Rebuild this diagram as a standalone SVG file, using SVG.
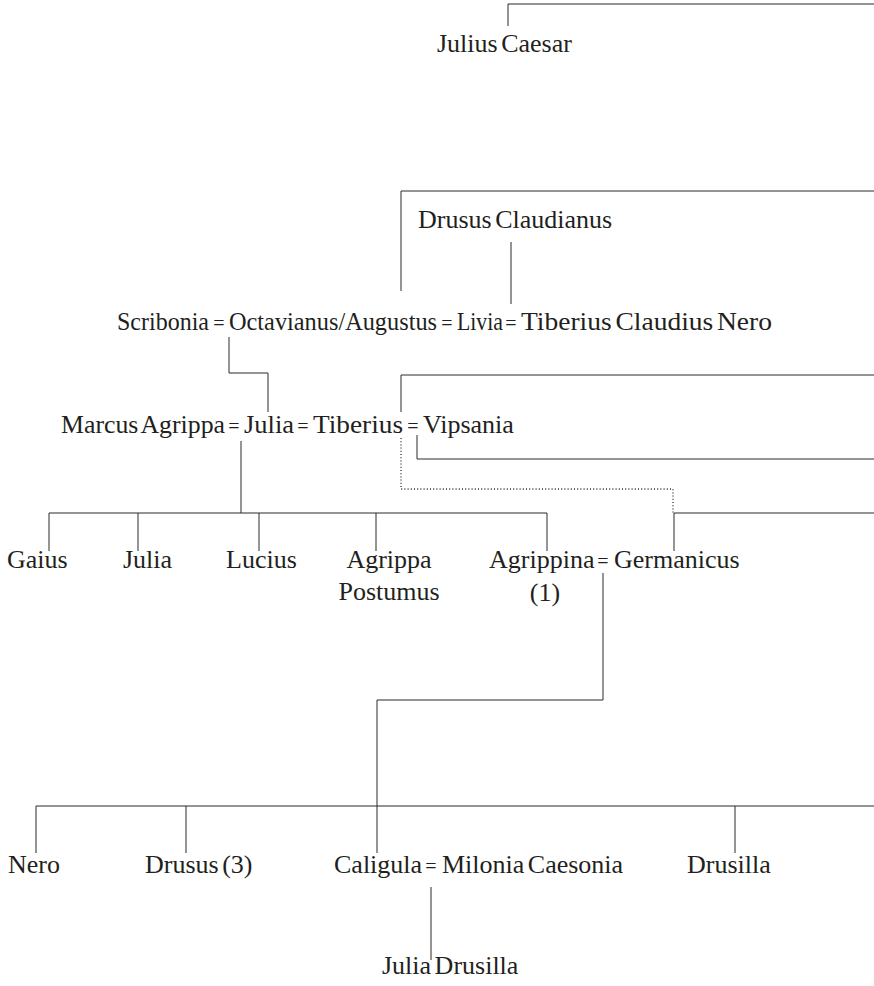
<svg xmlns="http://www.w3.org/2000/svg" width="874" height="986" viewBox="0 0 874 986">
<style>
text{font-family:"Liberation Serif","DejaVu Serif",serif;font-size:26px;fill:#231f20;word-spacing:-3px}
.eq{font-size:20px}
.ln{fill:none;stroke:#2a2a2a;stroke-width:1}
.dot{fill:none;stroke:#2a2a2a;stroke-width:1.3;stroke-dasharray:1 2.2}
</style>
<rect width="874" height="986" fill="#fff"/>
<g id="connectors">
<path class="ln" d="M508,26V4H874"/>
<path class="ln" d="M401,291V191H874"/>
<path class="ln" d="M511,242V304"/>
<path class="ln" d="M229,337V373H268V412"/>
<path class="ln" d="M401,412V375H874"/>
<path class="ln" d="M417,435V459H874"/>
<path class="dot" d="M401,438V489H673V513"/>
<path class="ln" d="M674,551V513H874"/>
<path class="ln" d="M241,441V513M49,513H547M49,513V551M138,513V551M259,513V551M376,513V551M547,513V551"/>
<path class="ln" d="M603,573V700H377V853"/>
<path class="ln" d="M36,806H874M36,806V853M186,806V853M735,806V853"/>
<path class="ln" d="M431,887V960"/>
</g>
<g id="marriages">
<text class="eq" x="219" y="330" text-anchor="middle">=</text>
<text class="eq" x="447" y="330" text-anchor="middle">=</text>
<text class="eq" x="511" y="330" text-anchor="middle">=</text>
<text class="eq" x="234" y="433" text-anchor="middle">=</text>
<text class="eq" x="303" y="433" text-anchor="middle">=</text>
<text class="eq" x="413" y="433" text-anchor="middle">=</text>
<text class="eq" x="603" y="568" text-anchor="middle">=</text>
<text class="eq" x="431" y="873" text-anchor="middle">=</text>
</g>
<g id="julius-caesar"><text x="437" y="52">Julius Caesar</text></g>
<g id="drusus-claudianus"><text x="418" y="228">Drusus Claudianus</text></g>
<g id="scribonia"><text x="117" y="330" textLength="92" lengthAdjust="spacingAndGlyphs">Scribonia</text></g>
<g id="octavianus-augustus"><text x="229" y="330" textLength="208" lengthAdjust="spacingAndGlyphs">Octavianus/Augustus</text></g>
<g id="livia"><text x="457" y="330" textLength="46" lengthAdjust="spacingAndGlyphs">Livia</text></g>
<g id="tiberius-claudius-nero"><text x="521" y="330" textLength="251" lengthAdjust="spacingAndGlyphs">Tiberius Claudius Nero</text></g>
<g id="marcus-agrippa"><text x="61" y="433" textLength="164" lengthAdjust="spacingAndGlyphs">Marcus Agrippa</text></g>
<g id="julia"><text x="244" y="433" textLength="50" lengthAdjust="spacingAndGlyphs">Julia</text></g>
<g id="tiberius"><text x="313" y="433" textLength="90" lengthAdjust="spacingAndGlyphs">Tiberius</text></g>
<g id="vipsania"><text x="423" y="433">Vipsania</text></g>
<g id="gaius"><text x="7" y="568">Gaius</text></g>
<g id="julia-2"><text x="123" y="568">Julia</text></g>
<g id="lucius"><text x="226" y="568">Lucius</text></g>
<g id="agrippa-postumus"><text x="389" y="568" text-anchor="middle">Agrippa</text><text x="389" y="600" text-anchor="middle">Postumus</text></g>
<g id="agrippina"><text x="489" y="568">Agrippina</text><text x="545" y="601" text-anchor="middle">(1)</text></g>
<g id="germanicus"><text x="614" y="568">Germanicus</text></g>
<g id="nero"><text x="8" y="873">Nero</text></g>
<g id="drusus"><text x="145" y="873">Drusus (3)</text></g>
<g id="caligula"><text x="334" y="873">Caligula</text></g>
<g id="milonia-caesonia"><text x="442" y="873">Milonia Caesonia</text></g>
<g id="drusilla"><text x="687" y="873">Drusilla</text></g>
<g id="julia-drusilla"><text x="382" y="974">Julia Drusilla</text></g>
</svg>
